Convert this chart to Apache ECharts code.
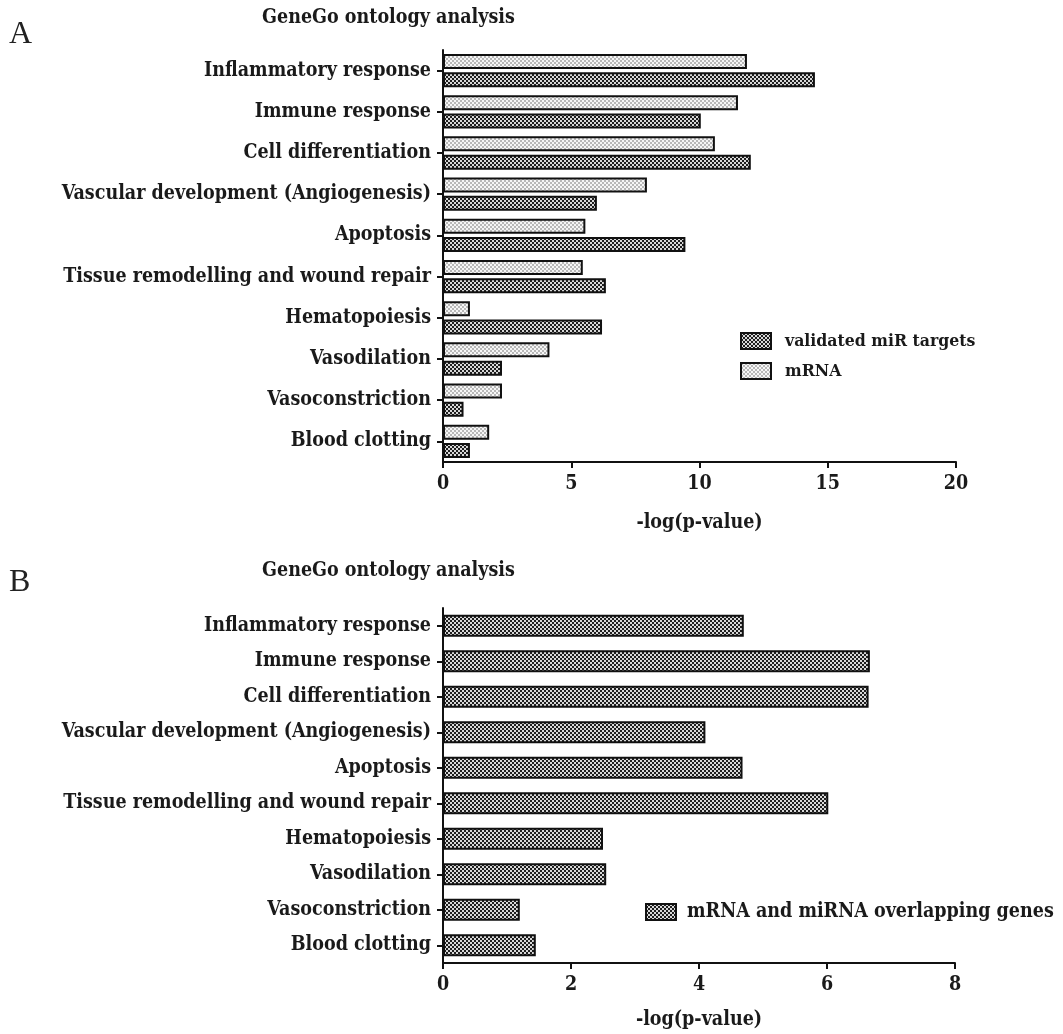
<!DOCTYPE html>
<html>
<head>
<meta charset="utf-8">
<script src="https://cdn.jsdelivr.net/npm/echarts@6/dist/echarts.min.js"></script>
<style>
  html, body { margin: 0; padding: 0; background: #fff; }
  #chart { width: 1063px; height: 1034px; }
</style>
</head>
<body>
<div id="chart"></div>
<script>
// GeneGo process categories (top to bottom)
const categories = [
  'Inflammatory response',
  'Immune response',
  'Cell differentiation',
  'Vascular development (Angiogenesis)',
  'Apoptosis',
  'Tissue remodelling and wound repair',
  'Hematopoiesis',
  'Vasodilation',
  'Vasoconstriction',
  'Blood clotting'
];

// Panel A: -log(p-value)
const mrnaValues      = [11.85, 11.5, 10.6, 7.95, 5.55, 5.45, 1.05, 4.15, 2.3, 1.8];
const validatedValues = [14.5, 10.05, 12.0, 6.0, 9.45, 6.35, 6.2, 2.3, 0.8, 1.05];

// Panel B: -log(p-value)
const overlapValues   = [4.7, 6.67, 6.65, 4.1, 4.68, 6.02, 2.5, 2.55, 1.2, 1.45];

const ticksA = [0, 5, 10, 15, 20];
const ticksB = [0, 2, 4, 6, 8];

const seriesNames = {
  validated: 'validated miR targets',
  mrna: 'mRNA',
  overlap: 'mRNA and miRNA overlapping genes'
};

// Small repeating tiles used as hatched bar fills
function makeTile(bg, fg, cells) {
  const c = document.createElement('canvas');
  c.width = 4; c.height = 4;
  const g = c.getContext('2d');
  g.fillStyle = bg; g.fillRect(0, 0, 4, 4);
  g.fillStyle = fg;
  cells.forEach(([x, y, w, h]) => g.fillRect(x, y, w, h));
  return { image: c, repeat: 'repeat' };
}
const darkFill  = makeTile('#1e1e1e', '#d8d8d8', [[0, 0, 2, 2], [2, 2, 2, 2]]);
const lightFill = makeTile('#f6f6f6', '#b8b8b8', [[0, 0, 2, 2], [2, 2, 2, 2]]);

const FONT = '"DejaVu Serif Condensed", "DejaVu Serif", serif';
const labelStyle = { fontFamily: FONT, fontWeight: 'bold', fontSize: 19.5, color: '#1a1a1a' };

const chart = echarts.init(document.getElementById('chart'), null, { renderer: 'canvas' });

function valueAxis(gridIndex, interval, ticks) {
  return {
    type: 'value', gridIndex, min: ticks[0], max: ticks[ticks.length - 1], interval,
    name: '-log(p-value)', nameLocation: 'middle', nameGap: gridIndex === 0 ? 51 : 47,
    nameTextStyle: labelStyle,
    axisLine: { show: true, lineStyle: { color: '#111', width: 2 } },
    axisTick: { show: true, length: 6, lineStyle: { color: '#111', width: 2 } },
    axisLabel: Object.assign({ margin: 12 }, labelStyle),
    splitLine: { show: false }
  };
}
function categoryAxis(gridIndex) {
  return {
    type: 'category', gridIndex, data: categories, inverse: true,
    axisLine: { show: true, lineStyle: { color: '#111', width: 2 } },
    axisTick: { show: true, alignWithLabel: true, length: 6, lineStyle: { color: '#111', width: 2 } },
    axisLabel: Object.assign({ margin: 12 }, labelStyle),
    splitLine: { show: false }
  };
}

const barBorder = { borderColor: '#111', borderWidth: 2 };
const titleStyle = { fontFamily: FONT, fontWeight: 'bold', fontSize: 19.5, fill: '#1a1a1a' };
const panelStyle = { fontFamily: '"Liberation Serif", serif', fontSize: 32, fill: '#222' };

chart.setOption({
  animation: false,
  backgroundColor: '#fff',
  graphic: [
    { type: 'text', left: 9, top: 19, style: Object.assign({ text: 'A' }, panelStyle) },
    { type: 'text', left: 262, top: 8, style: Object.assign({ text: 'GeneGo ontology analysis' }, titleStyle) },
    { type: 'text', left: 9, top: 567, style: Object.assign({ text: 'B' }, panelStyle) },
    { type: 'text', left: 262, top: 561, style: Object.assign({ text: 'GeneGo ontology analysis' }, titleStyle) }
  ],
  legend: [
    {
      data: [seriesNames.validated, seriesNames.mrna],
      orient: 'vertical', left: 735, top: 327,
      itemWidth: 30, itemHeight: 16, itemGap: 12,
      icon: 'rect',
      textStyle: Object.assign({}, labelStyle, { fontSize: 17.5, padding: [0, 0, 0, 9] }),
      itemStyle: { borderColor: '#111', borderWidth: 2 }
    },
    {
      data: [seriesNames.overlap],
      orient: 'vertical', left: 640, top: 897,
      itemWidth: 30, itemHeight: 16,
      icon: 'rect',
      textStyle: Object.assign({}, labelStyle, { fontSize: 19.5, padding: [0, 0, 0, 6] }),
      itemStyle: { borderColor: '#111', borderWidth: 2 }
    }
  ],
  grid: [
    { left: 443, width: 513, top: 50, height: 412 },
    { left: 443, width: 512, top: 608, height: 355 }
  ],
  xAxis: [valueAxis(0, 5, ticksA), valueAxis(1, 2, ticksB)],
  yAxis: [categoryAxis(0), categoryAxis(1)],
  series: [
    {
      name: seriesNames.mrna, type: 'bar', xAxisIndex: 0, yAxisIndex: 0,
      data: mrnaValues, barWidth: 15, barGap: '22%',
      itemStyle: Object.assign({ color: lightFill }, barBorder)
    },
    {
      name: seriesNames.validated, type: 'bar', xAxisIndex: 0, yAxisIndex: 0,
      data: validatedValues, barWidth: 15, barGap: '22%',
      itemStyle: Object.assign({ color: darkFill }, barBorder)
    },
    {
      name: seriesNames.overlap, type: 'bar', xAxisIndex: 1, yAxisIndex: 1,
      data: overlapValues, barWidth: 22,
      itemStyle: Object.assign({ color: darkFill }, barBorder)
    }
  ]
});
</script>
</body>
</html>
